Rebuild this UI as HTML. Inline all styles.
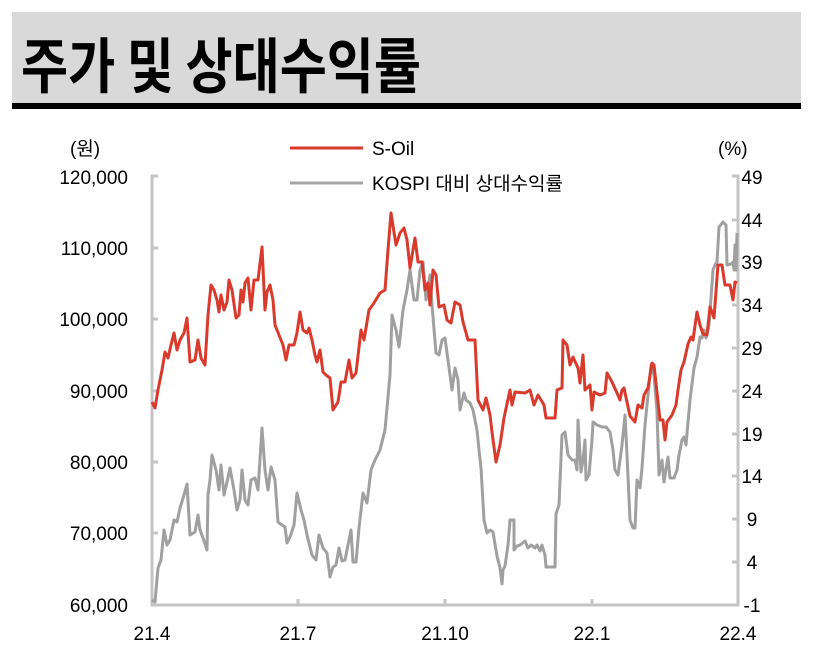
<!DOCTYPE html>
<html><head><meta charset="utf-8"><style>
html,body{margin:0;padding:0;background:#fff;}
svg{display:block;}
text{font-family:"Liberation Sans","Noto Sans CJK KR",sans-serif;fill:#000;}
</style></head><body>
<svg width="815" height="667" viewBox="0 0 815 667" xmlns="http://www.w3.org/2000/svg">
<rect x="12" y="12" width="789" height="92" fill="#d9d9d9"/>
<rect x="12" y="103" width="789" height="6" fill="#000"/>
<text x="21" y="88" style="font-family:'Noto Sans CJK KR',sans-serif;font-weight:bold;font-size:60px" textLength="400" lengthAdjust="spacingAndGlyphs">주가 및 상대수익률</text>

<text x="70" y="155" font-size="19">(원)</text>
<text x="718" y="155" font-size="19">(%)</text>
<line x1="290" y1="148" x2="363" y2="148" stroke="#d93a2b" stroke-width="3"/>
<text x="372" y="155" font-size="19">S-Oil</text>
<line x1="290" y1="183" x2="363" y2="183" stroke="#a6a6a6" stroke-width="3"/>
<text x="372" y="190" font-size="19">KOSPI 대비 상대수익률</text>

<g stroke="#c4c4c4" stroke-width="3" fill="none">
<path d="M158 176H152V605H738V176H732"/>
<path d="M152 248H158M152 319H158M152 391H158M152 462H158M152 533H158"/>
<path d="M738 220H732M738 262H732M738 305H732M738 348H732M738 391H732M738 434H732M738 476H732M738 519H732M738 562H732"/>
<path d="M298 605V599M445 605V599M592 605V599"/>
</g>

<g font-size="19" text-anchor="end">
<text x="128" y="184">120,000</text>
<text x="128" y="255">110,000</text>
<text x="128" y="326">100,000</text>
<text x="128" y="398">90,000</text>
<text x="128" y="469">80,000</text>
<text x="128" y="540">70,000</text>
<text x="128" y="612">60,000</text>
</g>
<g font-size="19" text-anchor="middle">
<text x="752" y="184">49</text>
<text x="752" y="227">44</text>
<text x="752" y="269">39</text>
<text x="752" y="312">34</text>
<text x="752" y="355">29</text>
<text x="752" y="398">24</text>
<text x="752" y="441">19</text>
<text x="752" y="483">14</text>
<text x="752" y="526">9</text>
<text x="752" y="569">4</text>
<text x="752" y="612">-1</text>
<text x="152" y="640">21.4</text>
<text x="298" y="640">21.7</text>
<text x="445" y="640">21.10</text>
<text x="592" y="640">22.1</text>
<text x="738" y="640">22.4</text>
</g>

<polyline fill="none" stroke="#a0a0a0" stroke-width="3" stroke-linejoin="round" points="152,600 155,602 158,568 161,560 164,530 167,545 170,540 174,520 177,522 180,508 184,495 187,484 190,535 195,532 198,515 200,530 203,538 207,550 208,495 210,480 212,455 216,470 219,490 221,465 224,495 227,482 230,468 234,490 237,510 240,500 242,470 245,500 248,505 251,480 255,478 258,490 262,428 265,470 268,490 271,467 275,480 278,522 282,525 285,527 287,543 290,537 294,525 297,493 301,510 304,520 307,535 312,555 316,560 319,535 323,548 327,553 330,577 333,567 336,565 339,548 342,561 345,560 348,545 351,530 353,562 356,562 359,528 363,493 367,503 371,470 375,460 380,450 385,430 390,375 392,315 396,330 399,347 403,310 407,290 410,270 414,300 417,300 420,270 423,262 426,300 430,275 432,305 436,353 439,355 442,340 445,338 448,360 452,390 455,368 458,380 460,410 464,393 466,400 470,403 473,410 477,430 479,450 481,468 484,520 487,533 490,530 493,532 497,556 500,568 502,584 503,570 505,566 508,545 510,520 514,520 514,550 517,546 520,545 525,541 528,548 531,545 535,548 537,545 540,551 542,545 545,555 546,567 555,567 556,514 559,505 562,435 565,432 568,455 572,460 575,460 577,470 578,420 581,472 583,460 585,440 586,480 589,475 592,440 593,422 597,425 602,427 606,427 610,432 613,450 615,470 618,475 622,445 625,415 627,455 630,520 633,528 635,528 637,480 640,488 642,468 645,425 648,395 651,365 654,375 657,412 659,475 662,460 664,482 668,457 670,478 674,478 677,470 679,455 682,440 684,437 686,445 690,400 694,368 697,357 700,337 702,338 704,330 706,338 708,330 709,325 711,298 713,270 715,265 717,262 719,227 723,222 726,225 727,265 731,264 733,262 734,270 735,245 736,270 737,233"/>

<polyline fill="none" stroke="#d93a2b" stroke-width="3" stroke-linejoin="round" points="152,402 155,408 158,390 162,370 165,352 168,358 171,345 174,333 177,350 180,340 184,333 187,318 190,362 195,360 198,340 201,358 205,365 208,315 211,285 214,290 217,300 219,312 221,295 224,310 227,302 229,280 232,290 236,318 239,315 241,290 243,302 245,283 248,278 251,310 254,280 258,280 262,247 265,310 267,292 270,285 273,300 275,325 279,335 283,345 286,360 289,345 294,345 297,333 300,312 303,330 307,333 309,328 312,340 315,355 317,362 320,350 323,372 326,375 330,378 333,410 338,402 341,382 345,382 349,360 352,378 356,373 361,330 364,340 369,310 374,303 380,293 385,290 388,250 391,213 396,245 400,233 404,228 407,240 410,268 415,238 418,262 422,262 425,290 428,283 430,305 433,270 436,275 439,307 444,305 447,320 451,323 455,302 460,305 463,322 468,340 475,340 478,400 483,410 486,398 490,415 492,432 496,462 500,445 504,418 510,390 512,405 515,392 525,393 530,390 534,405 538,395 544,405 546,418 555,418 557,390 562,388 563,340 567,345 570,365 573,357 578,368 580,383 583,355 585,390 590,385 592,410 594,392 600,395 605,393 607,373 612,382 617,393 620,400 622,390 624,388 630,416 635,422 638,405 642,408 644,395 648,388 652,363 654,365 660,420 663,420 665,440 667,422 672,415 676,405 678,390 681,370 684,362 688,344 691,337 693,340 697,312 700,325 703,334 707,335 710,307 712,312 714,318 718,265 722,265 725,285 730,285 733,300 735,282 737,283"/>
</svg>
</body></html>
